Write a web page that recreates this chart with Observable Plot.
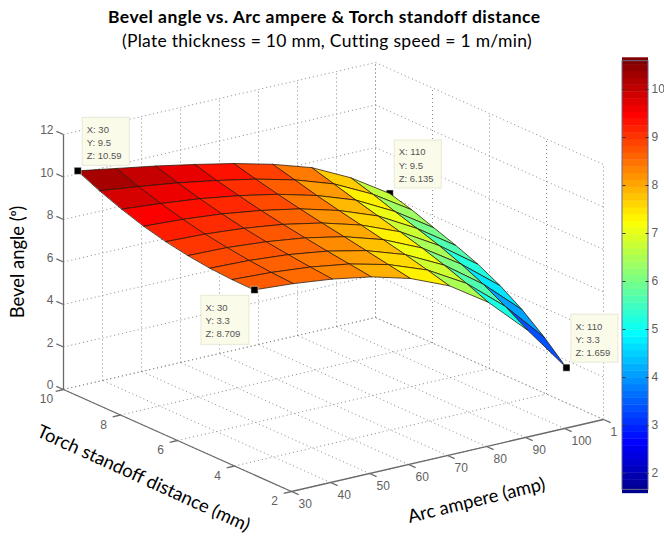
<!DOCTYPE html>
<html>
<head>
<meta charset="utf-8">
<script src="https://cdn.jsdelivr.net/npm/d3@7"></script>
<script src="https://cdn.jsdelivr.net/npm/@observablehq/plot@0.6"></script>
<style>
html,body{margin:0;padding:0;background:#fff;}
#head{height:50px;position:relative;font-family:Lato,sans-serif;color:#000;overflow:hidden;}
#head div{position:absolute;white-space:nowrap;font-size:17.5px;line-height:21px;}
#t1{left:108px;top:6px;font-weight:700;letter-spacing:.45px;}
#t2{left:122px;top:30px;letter-spacing:.28px;}
svg{display:block;filter:blur(0.4px);}
</style>
</head>
<body>
<div id="head"><div id="t1">Bevel angle vs. Arc ampere &amp; Torch standoff distance</div>
<div id="t2">(Plate thickness = 10 mm, Cutting speed = 1 m/min)</div></div>
<div id="chart"></div>
<script>
// ---- data ----
const arcAmpere = [30, 40, 50, 60, 70, 80, 90, 100, 110];
const standoff = [9.5, 8.725, 7.95, 7.175, 6.4, 5.625, 4.85, 4.075, 3.3];
const bevelRows = [
  [10.59, 10.28, 9.97, 9.62, 9.24, 8.78, 8.20, 7.30, 6.135],
  [10.12, 9.89, 9.64, 9.33, 8.97, 8.51, 7.90, 6.99, 5.83],
  [9.72, 9.56, 9.36, 9.08, 8.72, 8.24, 7.60, 6.64, 5.45],
  [9.38, 9.28, 9.11, 8.85, 8.50, 8.00, 7.32, 6.31, 5.08],
  [9.12, 9.05, 8.90, 8.66, 8.30, 7.78, 7.04, 5.97, 4.66],
  [8.93, 8.88, 8.73, 8.49, 8.12, 7.56, 6.74, 5.56, 4.12],
  [8.80, 8.74, 8.59, 8.33, 7.93, 7.32, 6.40, 5.08, 3.45],
  [8.73, 8.64, 8.47, 8.19, 7.74, 7.06, 6.01, 4.50, 2.62],
  [8.709, 8.58, 8.37, 8.05, 7.55, 6.78, 5.58, 3.85, 1.659]
];
const xTicks = [30, 40, 50, 60, 70, 80, 90, 100, 110];
const xTickLabels = ["30", "40", "50", "60", "70", "80", "90", "100", "1"];
const yTicks = [2, 4, 6, 8, 10];
const zTicks = [0, 2, 4, 6, 8, 10, 12];
const barTicks = [2, 3, 4, 5, 6, 7, 8, 9, 10];
const tips = [
  {X: 30, Y: 9.5, Z: 10.59, zt: "10.59", side: "right", under: false},
  {X: 110, Y: 9.5, Z: 6.135, zt: "6.135", side: "right", under: true},
  {X: 30, Y: 3.3, Z: 8.709, zt: "8.709", side: "below", under: false},
  {X: 110, Y: 3.3, Z: 1.659, zt: "1.659", side: "right", under: false}
];
const zMin = 1.659, zMax = 10.59;
const jetStops = [0, 0.11, 0.365, 0.625, 0.875, 1];
const jetColors = ["#00008f", "#0000ff", "#00ffff", "#ffff00", "#ff0000", "#800000"];

// ---- 3D view: (arc, standoff, bevel) -> page position ----
const W = 664, H = 486;
const px = (X, Y) => 291 + (X - 30) * 3.9 - (Y - 2) * 28.5;
const py = (X, Y, Z) => 441 - (X - 30) * 0.9 - (Y - 2) * 12.75 - Z * 21.25;
const P = (X, Y, Z) => [px(X, Y), py(X, Y, Z)];

// surface quads, painted back to front
const quads = [];
for (let j = 0; j < standoff.length - 1; j++) {
  for (let i = arcAmpere.length - 2; i >= 0; i--) {
    const id = j + "-" + i;
    const corners = [[i, j], [i + 1, j], [i + 1, j + 1], [i, j + 1]];
    const low = (bevelRows[j][i] + bevelRows[j + 1][i]) / 2;
    const high = (bevelRows[j][i + 1] + bevelRows[j + 1][i + 1]) / 2;
    const shade = 0.6 * low + 0.4 * high;
    for (const [a, b] of corners) {
      const [x, y] = P(arcAmpere[a], standoff[b], bevelRows[b][a]);
      quads.push({id, x, y, v: shade});
    }
  }
}

// dotted grid on floor and the two back walls
const segs = [];
const addSeg = (a, b) => segs.push({x1: a[0], y1: a[1], x2: b[0], y2: b[1]});
for (const X of xTicks) {
  addSeg(P(X, 2, 0), P(X, 10, 0));
  addSeg(P(X, 10, 0), P(X, 10, 12));
}
for (const Y of yTicks) {
  addSeg(P(30, Y, 0), P(110, Y, 0));
  addSeg(P(110, Y, 0), P(110, Y, 12));
}
for (const Z of zTicks) {
  addSeg(P(30, 10, Z), P(110, 10, Z));
  addSeg(P(110, 10, Z), P(110, 2, Z));
}

// axis lines and tick marks
const axes = [];
const addAxis = (a, b) => axes.push({x1: a[0], y1: a[1], x2: b[0], y2: b[1]});
addAxis(P(30, 10, 0), P(30, 10, 12));
addAxis(P(30, 10, 0), P(30, 2, 0));
addAxis(P(30, 2, 0), P(110, 2, 0));
for (const X of xTicks) addAxis(P(X, 2, 0), P(X, 1.75, 0));
for (const Y of yTicks) addAxis(P(30, Y, 0), P(28, Y, 0));
for (const Z of zTicks) addAxis(P(30, 10, Z), P(30, 10.25, Z));

// colour bar
const barX1 = 622, barX2 = 648;
const barY = v => 423 - (v - 2) * 48;
const barLevels = d3.range(64).map(k => zMin + (zMax - zMin) * k / 63);
const barStep = (zMax - zMin) / 63;

const ink = "#5f5f5f";
const label = {fontFamily: "Liberation Sans, sans-serif", fontSize: 12, fill: ink};
const axisFont = {fontFamily: "Lato, sans-serif", fontSize: 18.4, fill: "#000"};

const tipBox = t => {
  const [x, y] = P(t.X, t.Y, t.Z);
  return t.side === "below"
    ? {x1: x - 53, x2: x - 5, y1: y + 6, y2: y + 55}
    : {x1: x + 5, x2: x + 52, y1: y - 53, y2: y - 5};
};
const tipMark = list => Plot.dot(list, {
  x: t => px(t.X, t.Y), y: t => py(t.X, t.Y, t.Z),
  symbol: "square", r: 4, fill: "#000", stroke: "#fffbe8", strokeWidth: 0.5
});

const chart = Plot.plot({
  width: W, height: H,
  marginTop: 0, marginRight: 0, marginBottom: 0, marginLeft: 0,
  x: {domain: [0, W], range: [0, W], axis: null},
  y: {domain: [0, H], range: [0, H], axis: null},
  color: {
    type: "linear",
    domain: jetStops.map(t => zMin + (zMax - zMin) * t),
    range: jetColors,
    legend: false
  },
  style: {background: "#fff", overflow: "visible"},
  marks: [
    Plot.link(segs, {x1: "x1", y1: "y1", x2: "x2", y2: "y2", stroke: "#8a8a8a", strokeWidth: 1, strokeDasharray: "1,3"}),
    Plot.link(axes, {x1: "x1", y1: "y1", x2: "x2", y2: "y2", stroke: "#6a6a6a", strokeWidth: 1.3}),
    // tick labels
    Plot.text(xTicks, {
      x: d => px(d, 2), y: d => py(d, 2, 0), text: (d, i) => xTickLabels[i],
      textAnchor: "start", dx: 7, dy: 13, ...label
    }),
    Plot.text(yTicks, {
      x: d => px(30, d), y: d => py(30, d, 0), text: d => String(d), dx: -17, dy: 10, ...label
    }),
    Plot.text(zTicks, {
      x: d => px(30, 10), y: d => py(30, 10, d), text: d => String(d), textAnchor: "end", dx: -10, dy: -4, ...label
    }),
    // hidden marker goes below the surface
    tipMark(tips.filter(t => t.under)),
    Plot.line(quads, {
      x: "x", y: "y", z: "id", fill: "v", stroke: "#2a1508", strokeWidth: 0.9,
      strokeOpacity: 0.85, curve: "linear-closed"
    }),
    tipMark(tips.filter(t => !t.under)),
    // data tips
    Plot.rect(tips, {
      x1: t => tipBox(t).x1, x2: t => tipBox(t).x2, y1: t => tipBox(t).y1, y2: t => tipBox(t).y2,
      fill: "#fbfbe9", stroke: "#e8e8d6", strokeWidth: 1
    }),
    Plot.text(tips, {
      x: t => tipBox(t).x1 + 4, y: t => tipBox(t).y1 + 24,
      text: t => `X: ${t.X}\nY: ${t.Y}\nZ: ${t.zt}`,
      textAnchor: "start", lineHeight: 1.4, fontFamily: "Liberation Sans, sans-serif", fontSize: 9.5, fill: "#555"
    }),
    // colour bar
    Plot.rect(barLevels, {
      x1: barX1, x2: barX2,
      y1: v => barY(v + barStep / 2), y2: v => barY(v - barStep / 2) + 0.4,
      fill: v => v
    }),
    Plot.rect([0], {
      x1: barX1, x2: barX2, y1: barY(zMax), y2: barY(zMin),
      fill: "none", stroke: "#6a6a8a", strokeWidth: 1
    }),
    Plot.link(barTicks, {x1: barX1, x2: barX1 + 3, y1: barY, y2: barY, stroke: "#333", strokeWidth: 1}),
    Plot.link(barTicks, {x1: barX2 - 3, x2: barX2, y1: barY, y2: barY, stroke: "#333", strokeWidth: 1}),
    Plot.text(barTicks, {x: barX2 + 3, y: barY, text: d => String(d), textAnchor: "start", ...label}),
    // axis titles
    Plot.text(["Arc ampere (amp)"], {
      x: px(70, 2), y: py(70, 2, 0), text: d => d, rotate: -13.7, dx: 29, dy: 45, ...axisFont
    }),
    Plot.text(["Torch standoff distance (mm)"], {
      x: px(30, 6), y: py(30, 6, 0), text: d => d, rotate: 24.5, dx: -34, dy: 38, ...axisFont
    }),
    Plot.text(["Bevel angle (ᵒ)"], {
      x: px(30, 10), y: py(30, 10, 6), text: d => d, rotate: -90, dx: -45, ...axisFont
    })
  ]
});
document.getElementById("chart").appendChild(chart);
</script>
</body>
</html>
